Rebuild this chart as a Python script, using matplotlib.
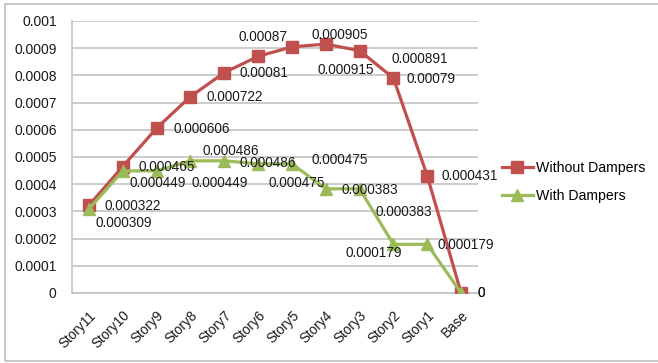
import matplotlib.pyplot as plt
from matplotlib.patches import Rectangle

plt.rcParams['font.family'] = ['Liberation Sans', 'DejaVu Sans']

stories = ["Story11", "Story10", "Story9", "Story8", "Story7", "Story6",
           "Story5", "Story4", "Story3", "Story2", "Story1", "Base"]
without_dampers = [0.000322, 0.000465, 0.000606, 0.000722, 0.00081, 0.00087,
                   0.000905, 0.000915, 0.000891, 0.00079, 0.000431, 0]
with_dampers = [0.000309, 0.000449, 0.000449, 0.000486, 0.000486, 0.000475,
                0.000475, 0.000383, 0.000383, 0.000179, 0.000179, 0]
y_ticks = [0, 0.0001, 0.0002, 0.0003, 0.0004, 0.0005,
           0.0006, 0.0007, 0.0008, 0.0009, 0.001]
y_tick_labels = ["0", "0.0001", "0.0002", "0.0003", "0.0004", "0.0005",
                 "0.0006", "0.0007", "0.0008", "0.0009", "0.001"]

# label offsets (pixels, right/up) from each point, hand placed to avoid overlaps
red_off = [(44, -1), (44, 0), (45, -1), (44, 0), (40, 0), (5, 19),
           (48, 12), (20, -26), (60, -8), (38, -1), (42, 0), (20, 0)]
green_off = [(35, -14), (35, -12), (63, -12), (40, 10), (44, -2), (82, 4),
             (5, -19), (44, -1), (44, -23), (-20, -9), (39, -1), (20, 0)]

red = "#C0504D"
green = "#9BBB59"
grid_c = "#BFBFBF"

fig = plt.figure(figsize=(6.58, 3.63), dpi=100)
ax = fig.add_axes([72 / 658, 1 - 293 / 363, 406 / 658, 272 / 363])

x = list(range(len(stories)))
ax.plot(x, without_dampers, color=red, lw=2.3, marker="s", ms=8,
        label="Without Dampers", zorder=3)
ax.plot(x, with_dampers, color=green, lw=2.3, marker="^", ms=8.5,
        label="With Dampers", zorder=4)

def fmt(v):
    return "0" if v == 0 else f"{v:.6f}".rstrip("0")

for xi, v, (dx, dy) in zip(x, without_dampers, red_off):
    ax.annotate(fmt(v), (xi, v), xytext=(dx, dy), textcoords="offset pixels",
                ha="center", va="center", fontsize=9.8, color="#1a1a1a", zorder=5)
for xi, v, (dx, dy) in zip(x, with_dampers, green_off):
    ax.annotate(fmt(v), (xi, v), xytext=(dx, dy), textcoords="offset pixels",
                ha="center", va="center", fontsize=9.8, color="#1a1a1a", zorder=5)

ax.set_xlim(-0.5, len(stories) - 0.5)
ax.set_ylim(0, 0.001)
ax.set_yticks(y_ticks)
ax.set_yticklabels(y_tick_labels, fontsize=10, color="#1a1a1a")
ax.set_xticks(x)
ax.set_xticklabels(stories, rotation=45, ha="right", va="top",
                   rotation_mode="anchor", fontsize=9.8, color="#1a1a1a")
ax.tick_params(axis="y", length=0, pad=11)
ax.tick_params(axis="x", length=0, pad=11)
ax.grid(axis="y", color=grid_c, lw=1.1)
ax.set_axisbelow(True)
for s in ["top", "right"]:
    ax.spines[s].set_visible(False)
for s in ["left", "bottom"]:
    ax.spines[s].set_color(grid_c)
    ax.spines[s].set_linewidth(1.1)

fig.legend(loc="upper left", bbox_to_anchor=(496 / 658, 1 - 155 / 363),
           frameon=False, fontsize=10.2, handlelength=2.2, handletextpad=0.2,
           labelspacing=1.0, borderaxespad=0)

# outer chart border
fig.patches.append(Rectangle((5 / 658, 1 - 361 / 363), 700 / 658, 357 / 363,
                             transform=fig.transFigure, fill=False,
                             edgecolor="#BDBDBD", lw=1.2))

fig.savefig("out.png", dpi=100)
